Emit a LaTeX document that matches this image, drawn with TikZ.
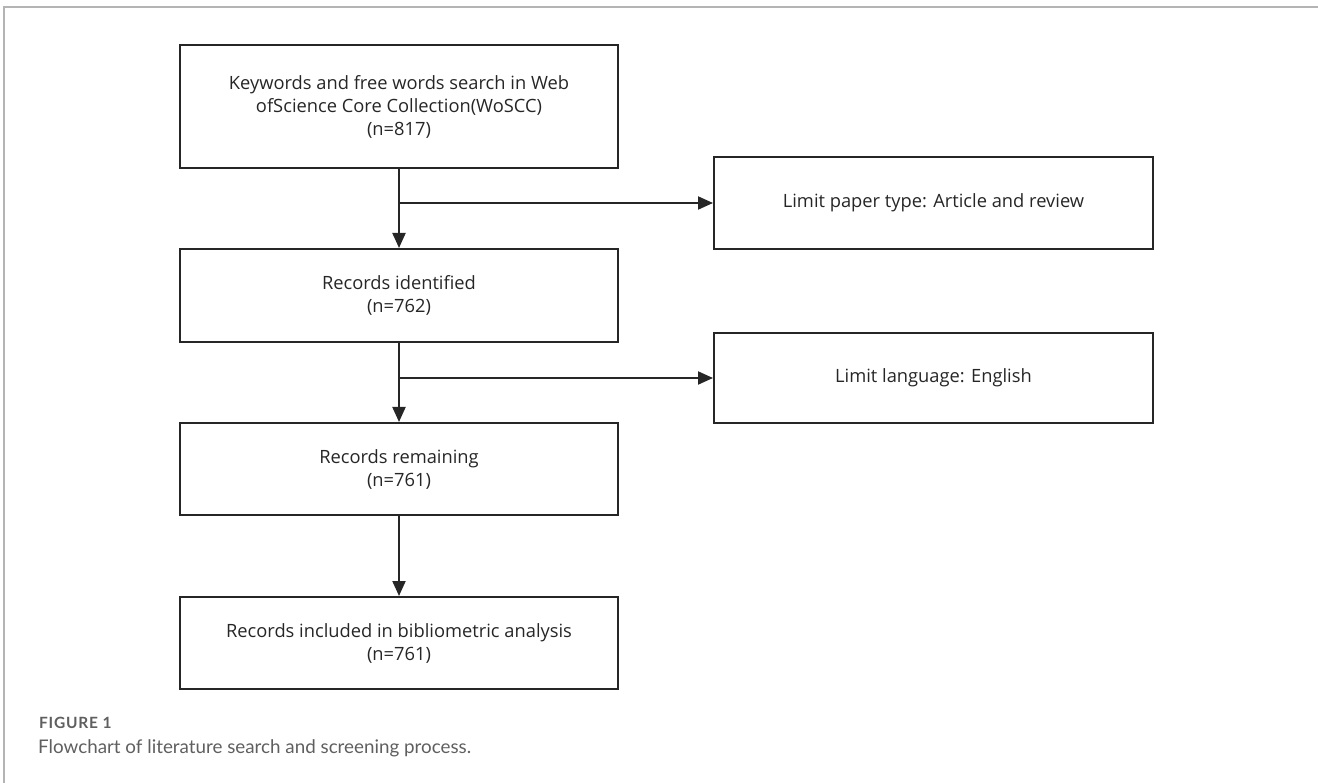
\documentclass[tikz,border=0pt]{standalone}
\usepackage{fontspec}
\setmainfont{Open Sans}
\newfontfamily\capfont{Lato}
\newfontfamily\figfont[LetterSpace=5]{Lato}
\usetikzlibrary{arrows.meta}
\definecolor{boxline}{HTML}{262626}
\definecolor{framegray}{HTML}{B4B4B4}
\definecolor{captext}{HTML}{5F5F5F}
\tikzset{
  flowbox/.style={draw=boxline,line width=2pt,minimum width=438pt,align=center,
    inner sep=0pt,font=\fontsize{18.3}{23}\selectfont,text=boxline},
  flowarrow/.style={draw=boxline,line width=2pt,-{Triangle[length=15pt,width=13pt]}}
}
\begin{document}
\begin{tikzpicture}[x=1pt,y=-1pt]
    \useasboundingbox (0,0) rectangle (1318,783);
    \draw[framegray,line width=2pt] (4,783) -- (4,7) -- (1318,7);

    \node[flowbox,minimum height=123pt] (search) at (399,106.5)
         {Keywords and free words search in Web\\ofScience Core Collection(WoSCC)\\(n=817)};
    \node[flowbox,minimum height=93pt] (identified) at (399,295.5)
         {Records identified\\(n=762)};
    \node[flowbox,minimum height=92pt] (remaining) at (399,469)
         {Records remaining\\(n=761)};
    \node[flowbox,minimum height=92pt] (included) at (399,643)
         {Records included in bibliometric analysis\\(n=761)};
    \node[flowbox,minimum width=439pt,minimum height=92pt] (papertype) at (933.5,203)
         {Limit paper type: Article and review};
    \node[flowbox,minimum width=439pt,minimum height=90pt] (language) at (933.5,378)
         {Limit language: English};

    \draw[flowarrow] (search) -- (identified);
    \draw[flowarrow] (search.south |- papertype.west) -- (papertype.west);
    \draw[flowarrow] (identified) -- (remaining);
    \draw[flowarrow] (identified.south |- language.west) -- (language.west);
    \draw[flowarrow] (remaining) -- (included);

    \node[anchor=base west,inner sep=0pt,text=captext,font=\figfont\bfseries\fontsize{15.5}{17}\selectfont]
         (figlabel) at (39,728) {FIGURE 1};
    \node[anchor=base west,inner sep=0pt,text=captext,font=\capfont\fontsize{18.8}{20}\selectfont]
         (figcaption) at (38,753) {Flowchart of literature search and screening process.};
\end{tikzpicture}
\end{document}
